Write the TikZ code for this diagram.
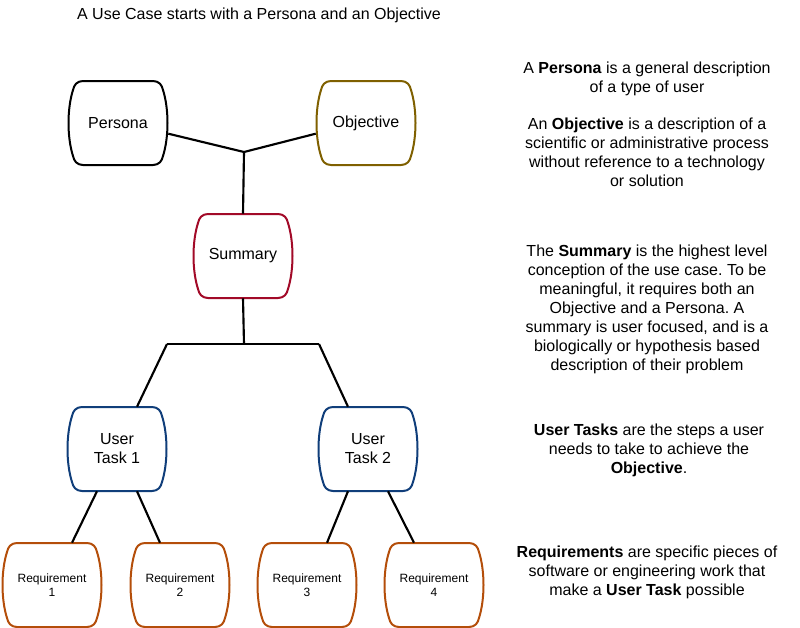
\documentclass[tikz,border=0pt]{standalone}
\usepackage{fontspec}
\setmainfont{Liberation Sans}
\usetikzlibrary{calc}
\frenchspacing

\definecolor{objcol}{RGB}{127,96,0}
\definecolor{sumcol}{RGB}{162,10,40}
\definecolor{taskcol}{RGB}{16,62,122}
\definecolor{reqcol}{RGB}{180,78,10}

\begin{document}
\begin{tikzpicture}[x=0.75pt,y=0.75pt,yscale=-1,xscale=1,
  casebox/.style={minimum width=75pt,minimum height=63pt,inner sep=0pt,align=center,font=\fontsize{12}{14.25}\selectfont},
  reqbox/.style={casebox,font=\fontsize{9}{10.5}\selectfont},
  outline/.style={line width=1.5pt,line join=round},
  link/.style={line width=1.6pt},
  note/.style={align=center,font=\fontsize{12}{14.25}\selectfont}]
\useasboundingbox (0,0) rectangle (800,628);

%Title
\node[note] (title) at (259,15) {A Use Case starts with a Persona and an Objective};

%Shapes
\node[casebox] (persona) at (118,123) {Persona};
\node[casebox] (objective) at (366,123) {Objective};
\node[casebox] (summary) at (243,256) {Summary};
\node[casebox] (task1) at (117,449) {User\\Task 1};
\node[casebox] (task2) at (368,449) {User\\Task 2};
\node[reqbox] (req1) at (52,585) {Requirement\\1};
\node[reqbox] (req2) at (180,585) {Requirement\\2};
\node[reqbox] (req3) at (307,585) {Requirement\\3};
\node[reqbox] (req4) at (434,585) {Requirement\\4};

%Outlines with bulging sides
\foreach \n/\c in {persona/black,objective/objcol,summary/sumcol,task1/taskcol,task2/taskcol,req1/reqcol,req2/reqcol,req3/reqcol,req4/reqcol}{
  \begin{scope}[shift={(\n.center)}]
    \draw[outline,draw=\c] (-35,-42) -- (35,-42) .. controls (41,-42) and (44,-38) .. (45,-33)
      .. controls (51,-14) and (51,14) .. (45,33) .. controls (44,38) and (41,42) .. (35,42)
      -- (-35,42) .. controls (-41,42) and (-44,38) .. (-45,33)
      .. controls (-51,14) and (-51,-14) .. (-45,-33) .. controls (-44,-38) and (-41,-42) .. (-35,-42) -- cycle;
  \end{scope}
}

%Junctions
\coordinate (join) at (244,152);
\coordinate (split) at (244,344);
\coordinate (splitl) at (167,344);
\coordinate (splitr) at (319,344);

%Straight Lines
\draw[link] (persona.-12) -- (join) -- (objective.192);
\draw[link] (join) -- (summary.north);
\draw[link] (summary.south) -- (split);
\draw[link] (splitl) -- (splitr);
\draw[link] (splitl) -- ([shift={(20,0)}]task1.north);
\draw[link] (splitr) -- ([shift={(-20,0)}]task2.north);
\draw[link] ([shift={(-20,0)}]task1.south) -- ([shift={(20,0)}]req1.north);
\draw[link] ([shift={(20,0)}]task1.south) -- ([shift={(-20,0)}]req2.north);
\draw[link] ([shift={(-20,0)}]task2.south) -- ([shift={(20,0)}]req3.north);
\draw[link] ([shift={(20,0)}]task2.south) -- ([shift={(-20,0)}]req4.north);

%Notes
\node[note] (npersona) at (647,79) {A \textbf{Persona} is a general description\\of a type of user};
\node[note] (nobjective) at (647,152.5) {An \textbf{Objective} is a description of a\\scientific or administrative process\\without reference to a technology\\or solution};
\node[note] (nsummary) at (647,309) {The \textbf{Summary} is the highest level\\conception of the use case. To be\\meaningful, it requires both an\\Objective and a Persona. A\\summary is user focused, and is a\\biologically or hypothesis based\\description of their problem};
\node[note] (ntask) at (649,450) {\textbf{User Tasks} are the steps a user\\needs to take to achieve the\\\textbf{Objective}.};
\node[note] (nreq) at (647,572.5) {\textbf{Requirements} are specific pieces of\\software or engineering work that\\make a \textbf{User Task} possible};

\end{tikzpicture}
\end{document}
